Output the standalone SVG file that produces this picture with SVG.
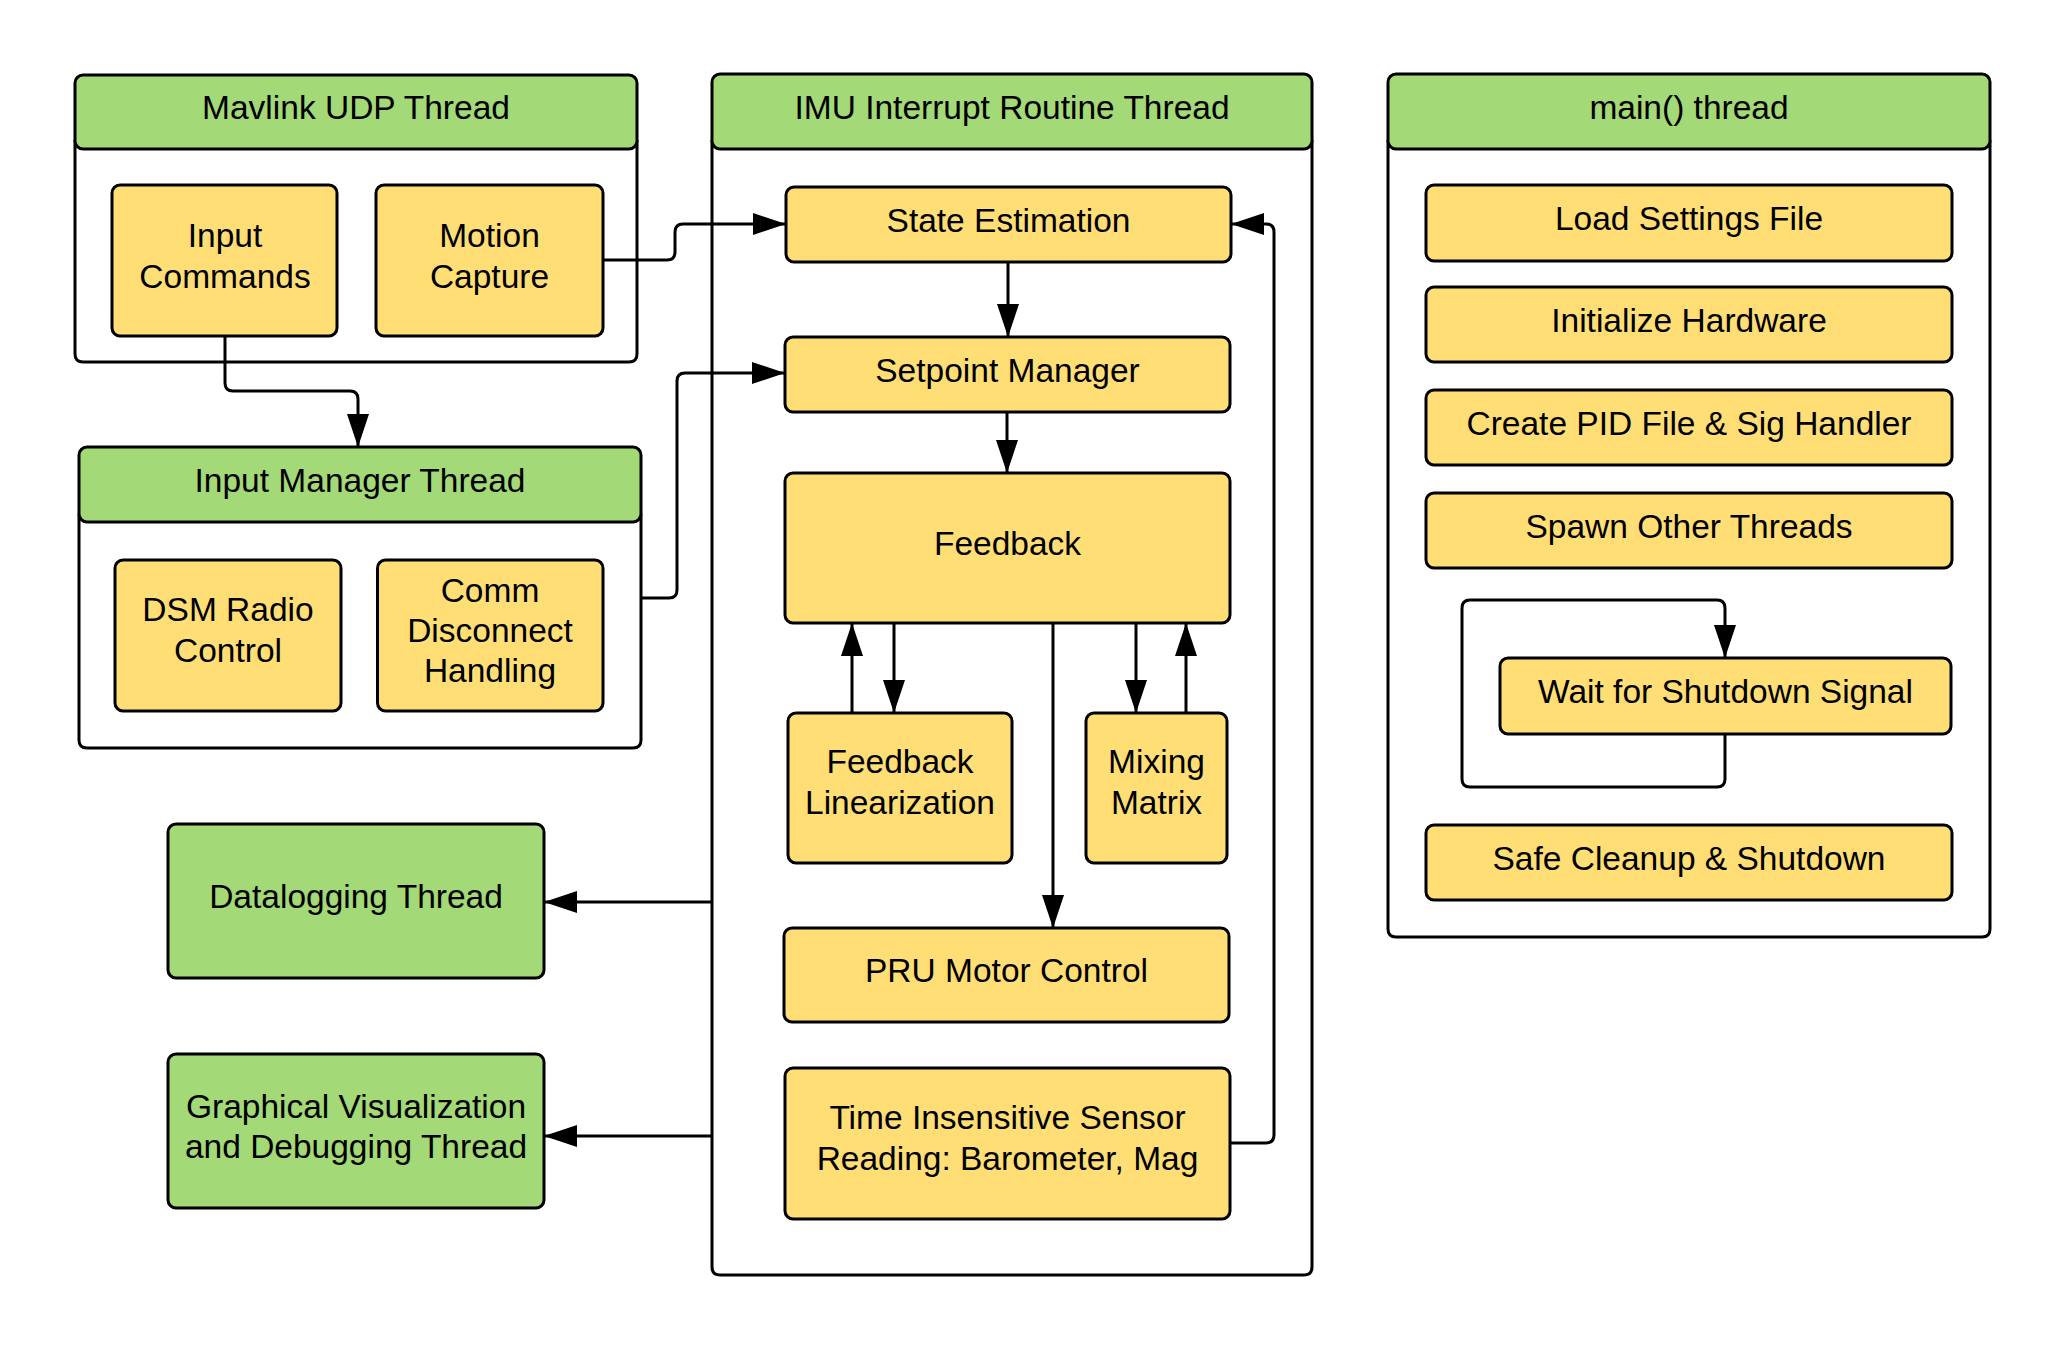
<svg xmlns="http://www.w3.org/2000/svg" width="2064" height="1350" viewBox="0 0 2064 1350">
<defs>
<marker id="arr" markerUnits="userSpaceOnUse" markerWidth="34" markerHeight="22" refX="33" refY="11" orient="auto">
<path d="M0,0 L33,11 L0,22 z" fill="#000"/>
</marker>
<style>
.hdr{fill:#a3d977;stroke:#000;stroke-width:3}
.body{fill:#fff;stroke:#000;stroke-width:3}
.box{fill:#ffde75;stroke:#000;stroke-width:3}
.gbox{fill:#a3d977;stroke:#000;stroke-width:3}
.t{font-family:"Liberation Sans",Arial,sans-serif;font-size:33.5px;fill:#000;text-anchor:middle}
.c{fill:none;stroke:#000;stroke-width:3}
.ca{fill:none;stroke:#000;stroke-width:3;marker-end:url(#arr)}
</style>
</defs>
<rect width="2064" height="1350" fill="#fff"/>

<g id="mavlink-thread">
<path class="body" d="M75,140 V354 Q75,362 83,362 H629 Q637,362 637,354 V140"/>
<rect class="hdr" x="75" y="75" width="562" height="74" rx="8"/>
<text class="t" x="356" y="119">Mavlink UDP Thread</text>
</g>
<g id="input-commands">
<rect class="box" x="112" y="185" width="225" height="151" rx="8"/>
<text class="t" x="225" y="247">Input</text>
<text class="t" x="225" y="288">Commands</text>
</g>
<g id="motion-capture">
<rect class="box" x="376" y="185" width="227" height="151" rx="8"/>
<text class="t" x="489.5" y="247">Motion</text>
<text class="t" x="489.5" y="288">Capture</text>
</g>

<g id="input-manager-thread">
<path class="body" d="M79,514 V740 Q79,748 87,748 H633 Q641,748 641,740 V514"/>
<rect class="hdr" x="79" y="447" width="562" height="75" rx="8"/>
<text class="t" x="360" y="492">Input Manager Thread</text>
</g>
<g id="dsm-radio">
<rect class="box" x="115" y="560" width="226" height="151" rx="8"/>
<text class="t" x="228" y="621">DSM Radio</text>
<text class="t" x="228" y="662">Control</text>
</g>
<g id="comm-disconnect">
<rect class="box" x="377.5" y="560" width="225.5" height="151" rx="8"/>
<text class="t" x="490" y="602">Comm</text>
<text class="t" x="490" y="642">Disconnect</text>
<text class="t" x="490" y="682">Handling</text>
</g>

<g id="datalogging-thread">
<rect class="gbox" x="168" y="824" width="376" height="154" rx="8"/>
<text class="t" x="356" y="908">Datalogging Thread</text>
</g>
<g id="graphical-thread">
<rect class="gbox" x="168" y="1054" width="376" height="154" rx="8"/>
<text class="t" x="356" y="1118">Graphical Visualization</text>
<text class="t" x="356" y="1158">and Debugging Thread</text>
</g>

<g id="imu-thread">
<path class="body" d="M712,140 V1267 Q712,1275 720,1275 H1304 Q1312,1275 1312,1267 V140"/>
<rect class="hdr" x="712" y="74" width="600" height="75" rx="8"/>
<text class="t" x="1012" y="119">IMU Interrupt Routine Thread</text>
</g>
<g id="state-estimation">
<rect class="box" x="786" y="187" width="445" height="75" rx="8"/>
<text class="t" x="1008.5" y="232">State Estimation</text>
</g>
<g id="setpoint-manager">
<rect class="box" x="785" y="337" width="445" height="75" rx="8"/>
<text class="t" x="1007.5" y="382">Setpoint Manager</text>
</g>
<g id="feedback">
<rect class="box" x="785" y="473" width="445" height="150" rx="8"/>
<text class="t" x="1007.5" y="555">Feedback</text>
</g>
<g id="feedback-linearization">
<rect class="box" x="788" y="713" width="224" height="150" rx="8"/>
<text class="t" x="900" y="773">Feedback</text>
<text class="t" x="900" y="814">Linearization</text>
</g>
<g id="mixing-matrix">
<rect class="box" x="1086" y="713" width="141" height="150" rx="8"/>
<text class="t" x="1156.5" y="773">Mixing</text>
<text class="t" x="1156.5" y="814">Matrix</text>
</g>
<g id="pru-motor-control">
<rect class="box" x="784" y="928" width="445" height="94" rx="8"/>
<text class="t" x="1006.5" y="982">PRU Motor Control</text>
</g>
<g id="time-insensitive">
<rect class="box" x="785" y="1068" width="445" height="151" rx="8"/>
<text class="t" x="1007.5" y="1129">Time Insensitive Sensor</text>
<text class="t" x="1007.5" y="1170">Reading: Barometer, Mag</text>
</g>

<g id="main-thread">
<path class="body" d="M1388,140 V929 Q1388,937 1396,937 H1982 Q1990,937 1990,929 V140"/>
<rect class="hdr" x="1388" y="74" width="602" height="75" rx="8"/>
<text class="t" x="1689" y="119">main() thread</text>
</g>
<g id="load-settings">
<rect class="box" x="1426" y="185" width="526" height="76" rx="8"/>
<text class="t" x="1689" y="230">Load Settings File</text>
</g>
<g id="initialize-hardware">
<rect class="box" x="1426" y="287" width="526" height="75" rx="8"/>
<text class="t" x="1689" y="332">Initialize Hardware</text>
</g>
<g id="create-pid">
<rect class="box" x="1426" y="390" width="526" height="75" rx="8"/>
<text class="t" x="1689" y="435">Create PID File &amp; Sig Handler</text>
</g>
<g id="spawn-threads">
<rect class="box" x="1426" y="493" width="526" height="75" rx="8"/>
<text class="t" x="1689" y="538">Spawn Other Threads</text>
</g>
<g id="wait-shutdown">
<rect class="box" x="1500" y="658" width="451" height="76" rx="8"/>
<text class="t" x="1725.5" y="703">Wait for Shutdown Signal</text>
</g>
<g id="safe-cleanup">
<rect class="box" x="1426" y="825" width="526" height="75" rx="8"/>
<text class="t" x="1689" y="870">Safe Cleanup &amp; Shutdown</text>
</g>

<g id="connectors">
<path class="ca" d="M603,260 H667 Q675,260 675,252 V232 Q675,224 683,224 H786"/>
<path class="ca" d="M225,336 V383 Q225,391 233,391 H350 Q358,391 358,399 V447"/>
<path class="ca" d="M640,598 H669 Q677,598 677,590 V381 Q677,373 685,373 H785"/>
<path class="ca" d="M1008,262 V337"/>
<path class="ca" d="M1007,412 V473"/>
<path class="ca" d="M852,713 V623"/>
<path class="ca" d="M894,623 V713"/>
<path class="ca" d="M1136,623 V713"/>
<path class="ca" d="M1186,713 V623"/>
<path class="ca" d="M1053,623 V928"/>
<path class="ca" d="M1230,1143 H1266 Q1274,1143 1274,1135 V232 Q1274,224 1266,224 H1231"/>
<path class="ca" d="M712,902 H544"/>
<path class="ca" d="M712,1136 H544"/>
<path class="ca" d="M1725,734 V779 Q1725,787 1717,787 H1470 Q1462,787 1462,779 V608 Q1462,600 1470,600 H1717 Q1725,600 1725,608 V658"/>
</g>
</svg>
